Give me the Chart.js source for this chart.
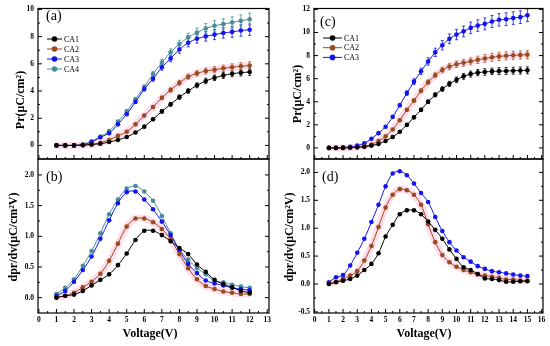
<!DOCTYPE html>
<html>
<head>
<meta charset="utf-8">
<script src="https://cdn.jsdelivr.net/npm/chart.js@4.4.1/dist/chart.umd.min.js"></script>
<style>
html, body { margin: 0; padding: 0; background: #fff; }
#wrap { position: relative; width: 550px; height: 346px; }
#wrap canvas { position: absolute; left: 0; top: 0; }
</style>
</head>
<body>
<div id="wrap">
  <canvas id="pa" width="550" height="346"></canvas>
  <canvas id="pb" width="550" height="346"></canvas>
  <canvas id="pc" width="550" height="346"></canvas>
  <canvas id="pd" width="550" height="346"></canvas>
</div>
<script>
// tensioni (V)
const voltLeft = [1, 1.5, 2, 2.5, 3, 3.5, 4, 4.5, 5, 5.5, 6, 6.5, 7, 7.5, 8, 8.5, 9, 9.5, 10, 10.5, 11, 11.5, 12];
const voltRight = [1, 1.5, 2, 2.5, 3, 3.5, 4, 4.5, 5, 5.5, 6, 6.5, 7, 7.5, 8, 8.5, 9, 9.5, 10, 10.5, 11, 11.5, 12, 12.5, 13, 13.5, 14, 14.5, 15];

// tick
const xTicksLeft = [0, 1, 2, 3, 4, 5, 6, 7, 8, 9, 10, 11, 12, 13];
const xTicksRight = [0, 1, 2, 3, 4, 5, 6, 7, 8, 9, 10, 11, 12, 13, 14, 15, 16];
const yTicksA = [0, 2, 4, 6, 8, 10];
const yTicksB = [0, 0.5, 1, 1.5, 2];
const yTicksC = [0, 2, 4, 6, 8, 10, 12];
const yTicksD = [-0.5, 0, 0.5, 1, 1.5, 2];

// (a) Pr
const prA_CA1 = [0, 0, 0, 0.02, 0.07, 0.12, 0.25, 0.4, 0.62, 0.95, 1.38, 1.92, 2.5, 3.02, 3.55, 4.0, 4.42, 4.74, 4.97, 5.15, 5.27, 5.35, 5.4];
const prA_CA2 = [0, 0, 0, 0.02, 0.07, 0.2, 0.4, 0.7, 1.0, 1.55, 2.2, 2.82, 3.5, 4.08, 4.6, 5.05, 5.3, 5.47, 5.57, 5.67, 5.75, 5.82, 5.87];
const prA_CA3 = [0, 0, 0, 0.05, 0.25, 0.6, 0.9, 1.55, 2.3, 3.2, 4.15, 4.9, 5.75, 6.4, 7.05, 7.55, 7.85, 8.02, 8.15, 8.27, 8.35, 8.45, 8.51];
const prA_CA4 = [0, 0, 0, 0.07, 0.3, 0.65, 1.05, 1.75, 2.5, 3.4, 4.3, 5.25, 6.1, 6.85, 7.45, 7.95, 8.3, 8.6, 8.8, 8.92, 9.04, 9.16, 9.28];
const errA_CA1 = [0, 0, 0, 0, 0, 0, 0, 0, 0.05, 0.06, 0.08, 0.1, 0.12, 0.14, 0.15, 0.17, 0.18, 0.2, 0.2, 0.22, 0.22, 0.24, 0.25];
const errA_CA2 = [0, 0, 0, 0, 0, 0, 0, 0, 0.05, 0.07, 0.1, 0.12, 0.14, 0.16, 0.18, 0.2, 0.2, 0.22, 0.23, 0.24, 0.25, 0.26, 0.28];
const errA_CA3 = [0, 0, 0, 0, 0, 0, 0.05, 0.07, 0.1, 0.12, 0.15, 0.18, 0.22, 0.25, 0.28, 0.3, 0.33, 0.35, 0.37, 0.38, 0.4, 0.42, 0.42];
const errA_CA4 = [0, 0, 0, 0, 0, 0, 0.05, 0.07, 0.1, 0.12, 0.15, 0.2, 0.22, 0.25, 0.28, 0.3, 0.33, 0.36, 0.38, 0.4, 0.42, 0.44, 0.45];

// (b) dPr/dV
const dA_CA1 = [0, 0.03, 0.05, 0.11, 0.2, 0.29, 0.38, 0.53, 0.72, 0.94, 1.09, 1.09, 1.02, 0.92, 0.81, 0.71, 0.54, 0.42, 0.29, 0.22, 0.17, 0.11, 0.08];
const dA_CA2 = [0.01, 0.03, 0.08, 0.17, 0.26, 0.39, 0.6, 0.88, 1.16, 1.29, 1.29, 1.23, 1.12, 0.95, 0.71, 0.48, 0.3, 0.19, 0.14, 0.1, 0.08, 0.06, 0.06];
const dA_CA3 = [0.03, 0.11, 0.26, 0.45, 0.67, 0.96, 1.26, 1.54, 1.72, 1.73, 1.6, 1.44, 1.24, 1.02, 0.77, 0.55, 0.4, 0.28, 0.23, 0.2, 0.16, 0.14, 0.12];
const dA_CA4 = [0.06, 0.16, 0.3, 0.52, 0.76, 1.05, 1.36, 1.6, 1.78, 1.82, 1.73, 1.58, 1.33, 1.05, 0.78, 0.62, 0.48, 0.38, 0.27, 0.25, 0.21, 0.18, 0.16];

// (c) Pr
const prC_CA1 = [0, 0, 0, 0.02, 0.05, 0.1, 0.2, 0.35, 0.6, 0.95, 1.4, 2.0, 2.65, 3.3, 4.0, 4.6, 5.1, 5.55, 5.9, 6.2, 6.4, 6.52, 6.58, 6.63, 6.65, 6.67, 6.69, 6.7, 6.72];
const prC_CA2 = [0, 0, 0, 0.03, 0.07, 0.15, 0.3, 0.6, 1.0, 1.6, 2.4, 3.3, 4.1, 4.95, 5.7, 6.3, 6.75, 7.05, 7.25, 7.38, 7.5, 7.63, 7.75, 7.85, 7.93, 7.98, 8.02, 8.05, 8.08];
const prC_CA3 = [0, 0, 0.05, 0.1, 0.2, 0.4, 0.8, 1.28, 1.84, 2.69, 3.7, 4.75, 5.74, 6.64, 7.49, 8.28, 8.9, 9.45, 9.82, 10.1, 10.4, 10.6, 10.75, 10.95, 11.1, 11.15, 11.25, 11.33, 11.5];
const errC_CA1 = [0, 0, 0, 0, 0, 0, 0, 0, 0, 0, 0.08, 0.1, 0.12, 0.14, 0.16, 0.18, 0.2, 0.22, 0.24, 0.25, 0.26, 0.27, 0.28, 0.28, 0.3, 0.3, 0.3, 0.3, 0.3];
const errC_CA2 = [0, 0, 0, 0, 0, 0, 0, 0, 0, 0.08, 0.1, 0.12, 0.15, 0.18, 0.2, 0.22, 0.25, 0.27, 0.28, 0.3, 0.3, 0.32, 0.33, 0.34, 0.35, 0.35, 0.35, 0.35, 0.35];
const errC_CA3 = [0, 0, 0, 0, 0, 0, 0, 0, 0.1, 0.12, 0.15, 0.2, 0.25, 0.28, 0.32, 0.36, 0.4, 0.42, 0.45, 0.47, 0.5, 0.5, 0.52, 0.52, 0.54, 0.55, 0.55, 0.55, 0.55];

// (d) dPr/dV
const dD_CA1 = [0, 0.03, 0.06, 0.09, 0.15, 0.25, 0.36, 0.55, 0.85, 1.06, 1.25, 1.32, 1.32, 1.25, 1.12, 0.97, 0.81, 0.62, 0.45, 0.3, 0.25, 0.18, 0.1, 0.09, 0.07, 0.04, 0.04, 0.05, 0.05];
const dD_CA2 = [0.01, 0.04, 0.09, 0.15, 0.23, 0.42, 0.68, 1.02, 1.37, 1.6, 1.7, 1.68, 1.6, 1.42, 1.07, 0.75, 0.52, 0.39, 0.31, 0.25, 0.21, 0.17, 0.15, 0.13, 0.11, 0.08, 0.08, 0.06, 0.06];
const dD_CA3 = [0.03, 0.12, 0.16, 0.33, 0.56, 0.81, 1.11, 1.42, 1.75, 1.98, 2.02, 1.95, 1.8, 1.63, 1.47, 1.2, 0.95, 0.75, 0.6, 0.48, 0.4, 0.32, 0.27, 0.23, 0.21, 0.19, 0.17, 0.15, 0.14];

// colori
const colori = { CA1: '#000000', CA2: '#9a4a1c', CA3: '#1414ee', CA4: '#468d9a' };
const SERIF = '"Liberation Serif", "Times New Roman", serif';

Chart.defaults.font.family = SERIF;
Chart.defaults.color = '#000';

// Plugin: cornice, tick interni, barre d'errore, legenda, titoli
const decorazioni = {
    id: 'decor',
    beforeDatasetsDraw(chart) {
        const ctx = chart.ctx;
        const ys = chart.scales.y;
        chart.data.datasets.forEach((ds, i) => {
            if (!ds.errs) return;
            const meta = chart.getDatasetMeta(i);
            ctx.save();
            ctx.strokeStyle = ds.borderColor;
            ctx.lineWidth = 0.8;
            meta.data.forEach((pt, j) => {
                const e = ds.errs[j];
                if (!e) return;
                const y1 = ys.getPixelForValue(ds.data[j].y + e);
                const y2 = ys.getPixelForValue(ds.data[j].y - e);
                ctx.beginPath();
                ctx.moveTo(pt.x, y1); ctx.lineTo(pt.x, y2);
                ctx.moveTo(pt.x - 1.5, y1); ctx.lineTo(pt.x + 1.5, y1);
                ctx.moveTo(pt.x - 1.5, y2); ctx.lineTo(pt.x + 1.5, y2);
                ctx.stroke();
            });
            ctx.restore();
        });
    },
    afterDraw(chart, args, opts) {
        const ctx = chart.ctx;
        const a = chart.chartArea;
        const xs = chart.scales.x, ys = chart.scales.y;
        ctx.save();
        ctx.strokeStyle = '#000';
        ctx.lineWidth = 1.2;
        ctx.strokeRect(a.left, a.top, a.right - a.left, a.bottom - a.top);

        // tick interni
        ctx.lineWidth = 1;
        ctx.beginPath();
        opts.xTicks.forEach((v, k) => {
            const px = xs.getPixelForValue(v);
            ctx.moveTo(px, a.bottom); ctx.lineTo(px, a.bottom - 4);
            if (k < opts.xTicks.length - 1) {
                const pm = xs.getPixelForValue((v + opts.xTicks[k + 1]) / 2);
                ctx.moveTo(pm, a.bottom); ctx.lineTo(pm, a.bottom - 2);
            }
        });
        opts.yTicks.forEach((v, k) => {
            const py = ys.getPixelForValue(v);
            ctx.moveTo(a.left, py); ctx.lineTo(a.left + 4, py);
            ctx.moveTo(a.right, py); ctx.lineTo(a.right - 4, py);
            if (k < opts.yTicks.length - 1) {
                const pm = ys.getPixelForValue((v + opts.yTicks[k + 1]) / 2);
                ctx.moveTo(a.left, pm); ctx.lineTo(a.left + 2, pm);
                ctx.moveTo(a.right, pm); ctx.lineTo(a.right - 2, pm);
            }
        });
        ctx.stroke();

        // etichetta del pannello
        ctx.fillStyle = '#000';
        ctx.font = '14px ' + SERIF;
        ctx.textBaseline = 'middle';
        ctx.textAlign = 'left';
        ctx.fillText(opts.label, opts.labelPos[0], opts.labelPos[1]);

        // legenda
        if (opts.legend) {
            const lg = opts.legend;
            lg.items.forEach((it, k) => {
                const y = lg.y + k * lg.dy;
                ctx.strokeStyle = colori[it];
                ctx.fillStyle = colori[it];
                ctx.lineWidth = 1;
                ctx.beginPath();
                ctx.moveTo(lg.x, y); ctx.lineTo(lg.x + lg.len, y);
                ctx.stroke();
                ctx.beginPath();
                ctx.arc(lg.x + lg.len / 2, y, 2.8, 0, Math.PI * 2);
                ctx.fill();
                ctx.fillStyle = '#000';
                ctx.font = '8px ' + SERIF;
                ctx.fillText(it, lg.x + lg.len + 2, y + 0.5);
            });
        }

        // titolo asse y
        ctx.font = 'bold 12px ' + SERIF;
        ctx.textAlign = 'center';
        ctx.save();
        ctx.translate(opts.yTitlePos[0], opts.yTitlePos[1]);
        ctx.rotate(-Math.PI / 2);
        ctx.fillText(opts.yTitle, 0, 0);
        ctx.restore();

        // titolo asse x
        if (opts.xTitle) {
            ctx.fillText(opts.xTitle, opts.xTitlePos[0], opts.xTitlePos[1]);
        }
        ctx.restore();
    }
};

function serie(nome, volt, valori, errori) {
    return {
        label: nome,
        data: volt.map((v, i) => ({ x: v, y: valori[i] })),
        errs: errori || null,
        borderColor: colori[nome],
        backgroundColor: colori[nome],
        borderWidth: 1,
        pointRadius: 2.3,
        pointBorderWidth: 0,
        tension: 0.3
    };
}

function alone(volt, valori) {
    return {
        label: 'alone',
        data: volt.map((v, i) => ({ x: v, y: valori[i] })),
        borderColor: 'rgba(255, 160, 200, 0.35)',
        borderWidth: 7,
        pointRadius: 0,
        tension: 0.3,
        order: 5
    };
}

function pannello(id, p) {
    new Chart(document.getElementById(id), {
        type: 'line',
        data: { datasets: p.datasets },
        options: {
            responsive: false,
            animation: false,
            devicePixelRatio: 1,
            events: [],
            layout: { padding: p.pad },
            plugins: {
                legend: { display: false },
                tooltip: { enabled: false },
                decor: p.decor
            },
            scales: {
                x: {
                    type: 'linear', min: p.xMin, max: p.xMax,
                    grid: { display: false, drawTicks: false }, border: { display: false },
                    ticks: { display: p.xLabels, font: { size: 7.5, weight: 'bold' }, padding: 3, maxRotation: 0, autoSkip: false },
                    afterBuildTicks: s => { s.ticks = p.decor.xTicks.map(v => ({ value: v })); },
                    afterFit: s => { s.height = p.xLabels ? 14 : 0; }
                },
                y: {
                    type: 'linear', min: p.yMin, max: p.yMax,
                    grid: { display: false, drawTicks: false }, border: { display: false },
                    ticks: { font: { size: 7.5, weight: 'bold' }, padding: 4, autoSkip: false, callback: p.fmt },
                    afterBuildTicks: s => { s.ticks = p.decor.yTicks.map(v => ({ value: v })); },
                    afterFit: s => { s.width = 20; }
                }
            }
        },
        plugins: [decorazioni]
    });
}

const intero = v => String(v);
const unDecimale = v => v.toFixed(1);

// (a)
pannello('pa', {
    pad: { left: 18, right: 281, top: 5, bottom: 187 },
    xMin: -0.05, xMax: 13.1, yMin: -1.0, yMax: 10.07, xLabels: false, fmt: intero,
    datasets: [
        serie('CA1', voltLeft, prA_CA1, errA_CA1),
        serie('CA2', voltLeft, prA_CA2, errA_CA2),
        serie('CA3', voltLeft, prA_CA3, errA_CA3),
        serie('CA4', voltLeft, prA_CA4, errA_CA4),
        alone(voltLeft, prA_CA2)
    ],
    decor: {
        xTicks: xTicksLeft, yTicks: yTicksA, label: '(a)', labelPos: [46, 16],
        legend: { items: ['CA1', 'CA2', 'CA3', 'CA4'], x: 47, y: 39, dy: 10, len: 15 },
        yTitle: 'Pr(μC/cm²)', yTitlePos: [21, 100]
    }
});

// (b)
pannello('pb', {
    pad: { left: 18, right: 281, top: 159, bottom: 19 },
    xMin: -0.05, xMax: 13.1, yMin: -0.25, yMax: 2.26, xLabels: true, fmt: unDecimale,
    datasets: [
        serie('CA1', voltLeft, dA_CA1),
        serie('CA2', voltLeft, dA_CA2),
        serie('CA3', voltLeft, dA_CA3),
        serie('CA4', voltLeft, dA_CA4),
        alone(voltLeft, dA_CA2)
    ],
    decor: {
        xTicks: xTicksLeft, yTicks: yTicksB, label: '(b)', labelPos: [46, 177],
        yTitle: 'dpr/dv(μC/cm²V)', yTitlePos: [14, 237],
        xTitle: 'Voltage(V)', xTitlePos: [150, 334]
    }
});

// (c)
pannello('pc', {
    pad: { left: 294, right: 7, top: 5, bottom: 187 },
    xMin: -0.05, xMax: 16.1, yMin: -0.96, yMax: 12.08, xLabels: false, fmt: intero,
    datasets: [
        serie('CA1', voltRight, prC_CA1, errC_CA1),
        serie('CA2', voltRight, prC_CA2, errC_CA2),
        serie('CA3', voltRight, prC_CA3, errC_CA3),
        alone(voltRight, prC_CA2)
    ],
    decor: {
        xTicks: xTicksRight, yTicks: yTicksC, label: '(c)', labelPos: [320, 22],
        legend: { items: ['CA1', 'CA2', 'CA3'], x: 323, y: 38, dy: 9.7, len: 19 },
        yTitle: 'Pr(μC/cm²)', yTitlePos: [298, 94]
    }
});

// (d)
pannello('pd', {
    pad: { left: 294, right: 7, top: 159, bottom: 19 },
    xMin: -0.05, xMax: 16.1, yMin: -0.52, yMax: 2.24, xLabels: true, fmt: unDecimale,
    datasets: [
        serie('CA1', voltRight, dD_CA1),
        serie('CA2', voltRight, dD_CA2),
        serie('CA3', voltRight, dD_CA3),
        alone(voltRight, dD_CA2)
    ],
    decor: {
        xTicks: xTicksRight, yTicks: yTicksD, label: '(d)', labelPos: [322, 177],
        yTitle: 'dpr/dv(μC/cm²V)', yTitlePos: [290, 237],
        xTitle: 'Voltage(V)', xTitlePos: [424, 334]
    }
});
</script>
</body>
</html>
